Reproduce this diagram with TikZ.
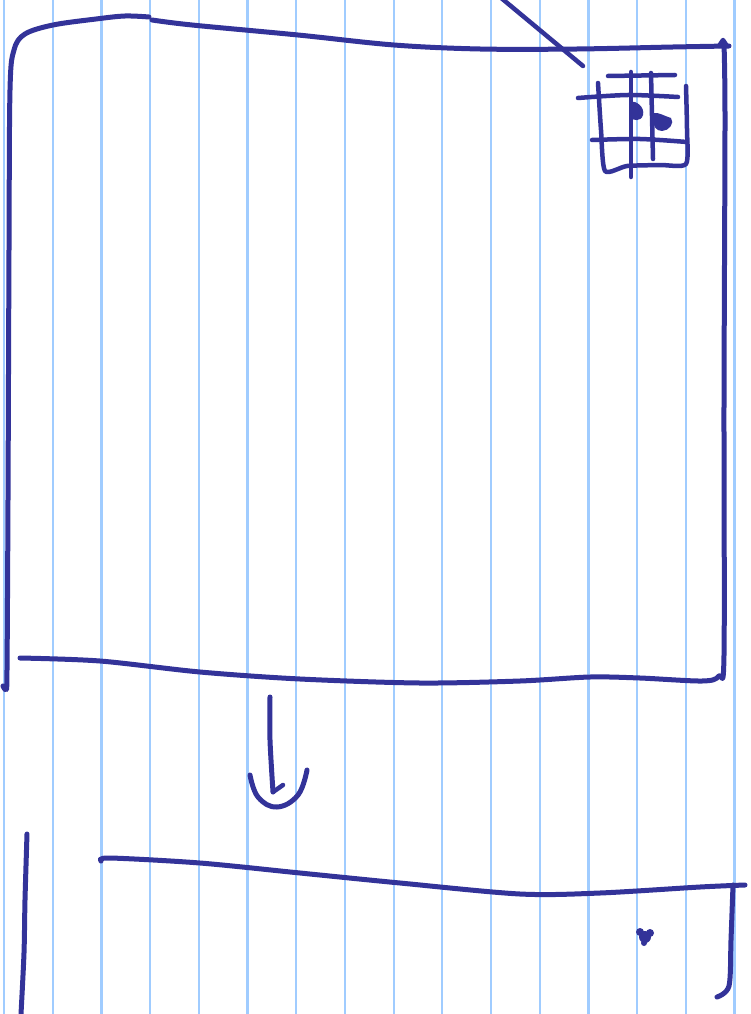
\documentclass[tikz,border=0pt]{standalone}
\definecolor{ink}{RGB}{51,51,153}
\definecolor{paperrule}{RGB}{160,204,255}
\begin{document}
\begin{tikzpicture}[x=1pt,y=-1pt,
  pen/.style={draw=ink,line width=5pt,line cap=round,line join=round},
  thinpen/.style={draw=ink,line width=4.5pt,line cap=round,line join=round},
  rulingline/.style={draw=paperrule,line width=2.2pt},
  blob/.style={fill=ink}]
\useasboundingbox (0,0) rectangle (751,1014);
\fill[white] (0,0) rectangle (751,1014);
% paper rulings
\foreach \i in {0,...,15} \draw[rulingline] ({4+48.7*\i},0) -- ({4+48.7*\i},1014);

% big box: left side and top-left bend
\draw[pen] plot[smooth,tension=0.55] coordinates {(3,686) (6,689) (7,670) (8,500) (9,250) (10,90) (14,50) (25,34) (53,25) (96,19) (125,16) (149,17)};
% top line
\draw[pen] plot[smooth,tension=0.55] coordinates {(152,20) (192,25) (298,35) (394,45) (480,49) (577,49) (673,47) (729,46)};
% top-right tick
\draw[thinpen] (719,46) -- (723,40) -- (727,46);
% right side and bottom line
\draw[pen] plot[smooth,tension=0.5] coordinates {(724,44) (725,120) (724,400) (724,655) (719,676) (702,681) (640,678) (590,677) (520,681) (420,683) (300,679) (200,672) (100,661) (20,658)};

% diagonal line
\draw[thinpen] (500,-3) -- (583,66);

% small grid
\draw[thinpen] (608,76) -- (675,75);
\draw[thinpen] plot[smooth,tension=0.5] coordinates {(578,98) (628,95) (678,97)};
\draw[thinpen] plot[smooth,tension=0.5] coordinates {(592,140) (640,139) (687,142)};
\draw[thinpen] plot[smooth,tension=0.4] coordinates {(598,83) (601,130) (605,171) (627,166) (660,165) (686,164) (687,130) (686,86)};
\draw[thinpen] (631,72) -- (631,177);
\draw[thinpen] (651,73) -- (653,159);
\fill[blob] (630,102) .. controls (636,100) and (645,107) .. (643,115) .. controls (641,122) and (633,121) .. (630,117) -- cycle;
\fill[blob] (653,113) .. controls (659,112) and (664,116) .. (671,118) .. controls (675,123) and (669,131) .. (662,131) .. controls (656,131) and (653,126) .. (653,120) -- cycle;

% arrow
\draw[pen] plot[smooth,tension=0.5] coordinates {(270,697) (270,740) (273,792)};
\draw[thinpen] (273,792) -- (283,785);
\draw[pen] plot[smooth,tension=0.7] coordinates {(250,775) (258,797) (277,807) (298,795) (307,770)};

% lower box
\draw[pen] plot[smooth,tension=0.5] coordinates {(27,834) (25,900) (24,953) (21,1014)};
\draw[pen] plot[smooth,tension=0.5] coordinates {(101,861) (110,858) (200,863) (300,873) (400,883) (520,894) (600,893) (700,887) (745,885)};
\draw[pen] plot[smooth,tension=0.5] coordinates {(733,885) (731,940) (729,986) (717,997)};
\fill[blob] (645,937) circle (6pt);
\fill[blob] (640,932) circle (4pt);
\fill[blob] (650,933) circle (4pt);
\fill[blob] (644,943) circle (3pt);
\end{tikzpicture}
\end{document}
